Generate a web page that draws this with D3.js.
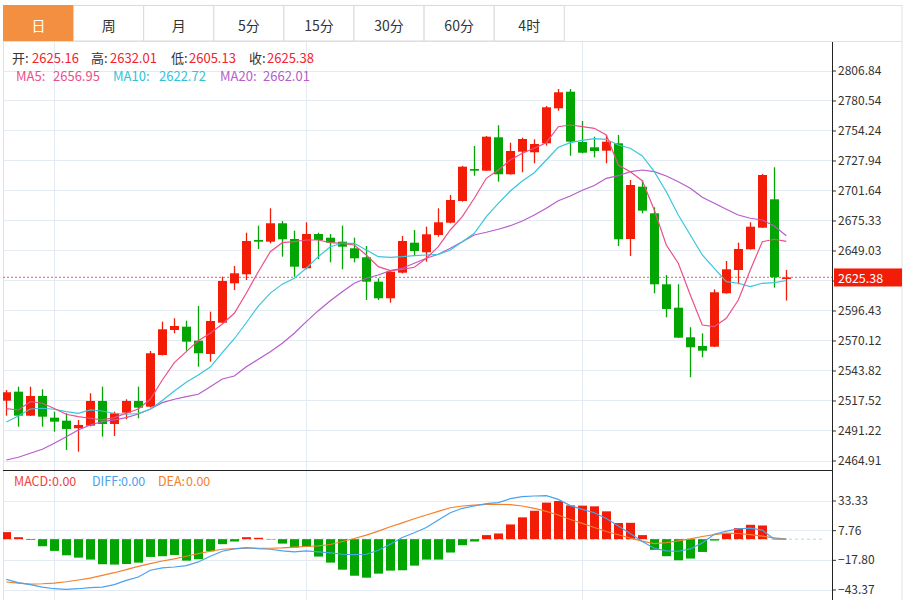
<!DOCTYPE html>
<html>
<head>
<meta charset="utf-8">
<script src="https://cdn.jsdelivr.net/npm/d3@7"></script>
<style>
  body { margin: 0; background: #fff; }
  svg text { font-family: "Noto Sans CJK SC", "Noto Sans", sans-serif; }
</style>
</head>
<body>
<svg id="svg1" width="909" height="600"></svg>
<script>
var tabs = ["日", "周", "月", "5分", "15分", "30分", "60分", "4时"];

var opens  = [2517.37,2525.25,2504.21,2521.49,2502.46,2499.83,2493.17,2495.45,2517.10,2496.94,2506.84,2517.10,2512.10,2557.43,2579.34,2582.24,2569.96,2558.31,2585.75,2620.29,2628.18,2658.25,2656.75,2672.89,2659.12,2633.44,2663.51,2660.26,2656.75,2650.97,2643.08,2621.69,2607.14,2629.58,2655.88,2647.46,2662.63,2673.41,2692.43,2720.49,2719.00,2748.28,2715.85,2735.66,2735.13,2743.02,2773.70,2788.26,2744.16,2739.51,2736.53,2743.02,2659.12,2704.97,2681.65,2619.41,2598.89,2572.95,2565.32,2564.70,2611.52,2631.94,2650.09,2669.03,2693.93,2625.16];
var highs  = [2526.74,2529.64,2529.64,2527.36,2507.72,2506.31,2500.44,2523.85,2529.64,2507.72,2518.59,2529.64,2560.93,2586.62,2589.60,2587.50,2600.38,2595.39,2626.07,2635.45,2664.65,2670.78,2686.04,2674.90,2666.40,2673.77,2664.65,2663.51,2670.78,2660.26,2652.99,2624.67,2631.33,2661.75,2667.01,2669.91,2686.04,2697.70,2723.12,2740.66,2749.42,2758.80,2743.55,2747.93,2746.53,2775.72,2790.62,2790.62,2762.57,2748.80,2750.30,2750.30,2710.85,2710.85,2686.91,2627.56,2619.41,2581.71,2576.45,2615.03,2639.83,2655.88,2673.77,2716.11,2721.98,2632.01];
var lows   = [2504.21,2494.58,2503.95,2494.58,2490.19,2474.15,2472.66,2494.90,2485.81,2486.42,2501.06,2501.94,2511.40,2557.00,2576.45,2561.20,2547.17,2551.56,2585.50,2614.41,2623.18,2650.36,2655.35,2643.61,2626.07,2632.56,2641.59,2638.69,2632.56,2638.69,2605.65,2605.65,2603.28,2629.00,2644.22,2639.22,2661.14,2672.89,2691.82,2714.61,2718.70,2709.36,2715.60,2717.60,2725.49,2740.92,2771.60,2732.15,2734.26,2730.75,2725.49,2652.99,2644.22,2681.65,2611.52,2590.48,2572.33,2537.87,2555.41,2564.40,2611.20,2619.41,2649.80,2668.90,2616.43,2605.13];
var closes = [2524.73,2504.21,2521.49,2503.33,2498.96,2492.56,2496.07,2517.10,2496.94,2506.31,2517.10,2511.23,2558.92,2579.95,2582.85,2569.09,2558.92,2587.23,2622.30,2629.05,2657.37,2656.75,2672.89,2658.86,2634.84,2663.51,2658.25,2655.88,2652.37,2642.20,2621.69,2607.14,2630.46,2657.37,2648.60,2663.24,2673.77,2693.31,2722.50,2719.00,2748.80,2715.85,2736.27,2746.79,2742.41,2774.58,2787.73,2744.42,2734.78,2736.27,2744.42,2658.86,2706.46,2683.93,2619.41,2597.75,2572.60,2564.18,2561.20,2612.40,2632.56,2650.36,2669.91,2715.23,2625.55,2625.38];

var ma5  = [2510.35,2509.21,2516.49,2515.08,2510.52,2505.44,2503.34,2501.94,2500.45,2502.46,2506.32,2510.09,2518.59,2535.51,2550.68,2560.32,2569.97,2576.45,2584.61,2593.98,2611.52,2630.45,2647.99,2655.88,2656.75,2658.25,2658.25,2655.88,2655.35,2653.86,2645.10,2634.84,2631.33,2632.56,2634.31,2642.20,2652.37,2667.01,2678.67,2694.80,2712.33,2719.61,2728.38,2734.25,2738.64,2743.55,2757.57,2759.06,2757.57,2756.17,2750.30,2724.00,2718.12,2710.23,2684.55,2653.86,2637.82,2610.03,2583.73,2582.24,2589.60,2605.65,2631.94,2656.75,2658.86,2656.95];
var ma10 = [2498.69,2503.95,2510.09,2510.71,2509.82,2507.72,2506.32,2509.21,2508.33,2506.14,2505.44,2506.14,2509.82,2517.51,2525.90,2533.56,2539.84,2546.85,2559.39,2571.66,2585.69,2600.24,2611.64,2619.53,2624.73,2633.44,2643.61,2652.37,2655.35,2655.35,2649.48,2643.61,2643.08,2643.61,2644.48,2645.10,2645.71,2649.48,2656.75,2664.12,2678.67,2690.42,2701.20,2709.97,2717.25,2728.38,2739.51,2743.55,2745.65,2747.05,2746.53,2741.53,2738.64,2731.89,2718.12,2700.59,2680.16,2662.63,2645.10,2633.44,2621.69,2620.29,2617.31,2620.29,2620.82,2622.72];
var ma20 = [2465.38,2467.74,2471.25,2474.75,2480.02,2485.81,2491.68,2496.06,2498.95,2500.45,2502.46,2505.70,2510.09,2515.61,2518.59,2520.87,2522.98,2529.64,2536.39,2539.02,2547.17,2553.66,2560.32,2567.68,2576.45,2586.62,2596.27,2605.03,2612.92,2620.29,2624.67,2627.56,2631.33,2633.44,2637.82,2642.20,2645.71,2650.97,2656.75,2662.63,2665.00,2667.62,2670.78,2674.90,2680.16,2686.04,2692.70,2696.82,2701.82,2706.03,2712.33,2714.61,2718.12,2719.61,2718.12,2714.35,2709.35,2703.57,2695.68,2690.42,2685.16,2680.16,2677.27,2675.78,2670.52,2662.01];

var macd = [6.1,1.7,-0.6,-6.1,-10.1,-13.9,-15.9,-17.6,-21.6,-21.9,-21.4,-20.2,-15.3,-14.7,-13.6,-18.5,-17.3,-10.4,-4.3,-2.0,1.7,1.2,-0.3,-3.8,-7.2,-6.6,-15.0,-20.2,-26.3,-31.5,-33.2,-29.7,-27.1,-26.8,-22.8,-17.6,-17.6,-11.5,-5.2,-2.0,3.5,4.9,12.7,18.8,24.5,31.5,32.9,29.1,28.9,28.3,24.0,13.9,14.1,3.5,-9.2,-14.7,-18.2,-16.7,-11.0,-1.2,5.2,9.5,12.4,11.8,0,0];
var diff = [-34.6,-37.5,-39.2,-41.3,-42.7,-43.3,-42.7,-41.8,-41.3,-39.2,-35.5,-32.6,-26.8,-24.8,-24.0,-22.8,-19.6,-14.7,-10.4,-8.4,-7.2,-8.1,-8.7,-10.1,-11.0,-10.1,-11.0,-11.8,-13.0,-13.3,-13.0,-9.5,-4.3,1.4,5.5,10.1,16.5,22.8,26.6,28.6,30.6,31.5,34.9,36.7,37.2,37.5,34.3,28.9,25.7,22.8,17.9,11.3,4.9,-2.0,-7.8,-10.1,-10.4,-8.4,-3.2,4.3,6.9,8.9,9.5,7.8,0,0];
var dea  = [-36.9,-37.8,-38.7,-38.4,-37.8,-36.7,-35.2,-33.5,-31.2,-28.9,-26.3,-23.4,-21.1,-18.8,-17.0,-14.7,-12.4,-10.4,-8.7,-8.1,-7.8,-7.8,-7.8,-7.5,-6.9,-6.3,-5.8,-4.6,-2.0,0.6,3.5,6.9,10.7,14.1,17.6,20.8,24.0,27.1,28.6,29.4,30.0,30.0,29.7,28.6,26.6,24.0,20.8,17.0,13.6,10.1,6.6,3.8,0.9,-1.7,-3.8,-2.9,-1.4,0.3,2.3,4.0,5.2,4.9,4.0,2.6,1.2,0];

var priceTicks = [2806.84,2780.54,2754.24,2727.94,2701.64,2675.33,2649.03,2622.73,2596.43,2570.12,2543.82,2517.52,2491.22,2464.91];
var macdTicks = [33.33,7.76,-17.80,-43.37];
var monthStarts = [4, 25, 48];
var lastPrice = 2625.38;

var upColor = "#f31c06";
var downColor = "#03a503";
var gridColor = "#e4eaf1";

var svg = d3.select("#svg1");

var plotLeft = 3, plotRight = 832, frameRight = 902;

var scaleX = d3.scaleLinear().domain([0, 65]).range([6.3, 786.3]);
var scaleY = d3.scaleLinear().domain([2464.91, 2806.84]).range([460.5, 70.5]);
var scaleM = d3.scaleLinear().domain([-43.37, 33.33]).range([589.5, 500.5]);

// outer frame
svg.append("rect")
    .attr("x", 3.5).attr("y", 5.5)
    .attr("width", frameRight - 3.5).attr("height", 600)
    .attr("fill", "none").attr("stroke", "#dde1e6");

// tabs
var tabW = 70.1;
var tab = svg.selectAll(".tab")
    .data(tabs)
    .enter()
    .append("g")
      .attr("class", "tab")
      .attr("transform", function(d, i) { return "translate(" + (3.5 + i * tabW) + ",5.5)"; });

tab.append("rect")
    .attr("width", tabW).attr("height", 35.5)
    .attr("fill", function(d, i) { return i == 0 ? "#f38f41" : "#fff"; })
    .attr("stroke", function(d, i) { return i == 0 ? "#f38f41" : "#d9d9d9"; });

tab.append("text")
    .attr("x", tabW / 2).attr("y", 19)
    .attr("text-anchor", "middle")
    .attr("dominant-baseline", "central")
    .attr("font-size", 14)
    .attr("fill", function(d, i) { return i == 0 ? "#fff" : "#333"; })
    .text(function(d) { return d; });

svg.append("line")
    .attr("x1", 3).attr("x2", frameRight)
    .attr("y1", 41.5).attr("y2", 41.5)
    .attr("stroke", "#dde1e6");

// grid
svg.selectAll(".hgrid")
    .data(priceTicks)
    .enter()
    .append("line")
      .attr("class", "hgrid")
      .attr("x1", plotLeft).attr("x2", plotRight)
      .attr("y1", function(d) { return Math.round(scaleY(d)) + 0.5; })
      .attr("y2", function(d) { return Math.round(scaleY(d)) + 0.5; })
      .attr("stroke", gridColor);

svg.selectAll(".mgrid")
    .data(macdTicks)
    .enter()
    .append("line")
      .attr("class", "mgrid")
      .attr("x1", plotLeft).attr("x2", plotRight)
      .attr("y1", function(d) { return Math.round(scaleM(d)) + 0.5; })
      .attr("y2", function(d) { return Math.round(scaleM(d)) + 0.5; })
      .attr("stroke", gridColor);

svg.selectAll(".vgrid")
    .data(monthStarts)
    .enter()
    .append("line")
      .attr("class", "vgrid")
      .attr("x1", function(d) { return Math.round(scaleX(d)) + 0.5; })
      .attr("x2", function(d) { return Math.round(scaleX(d)) + 0.5; })
      .attr("y1", 42).attr("y2", 600)
      .attr("stroke", gridColor);

// clip for main chart
svg.append("clipPath").attr("id", "clipMain")
    .append("rect").attr("x", plotLeft).attr("y", 42).attr("width", plotRight - plotLeft).attr("height", 428);
svg.append("clipPath").attr("id", "clipMacd")
    .append("rect").attr("x", plotLeft).attr("y", 472).attr("width", plotRight - plotLeft).attr("height", 128);

var main = svg.append("g").attr("clip-path", "url(#clipMain)");

// last price dotted line
main.append("line")
    .attr("x1", plotLeft).attr("x2", plotRight)
    .attr("y1", scaleY(lastPrice)).attr("y2", scaleY(lastPrice))
    .attr("stroke", "#f77a7a").attr("stroke-width", 1.2)
    .attr("stroke-dasharray", "2,2");

// candles
var idx = d3.range(closes.length);
var candle = main.selectAll(".candle")
    .data(idx)
    .enter()
    .append("g")
      .attr("class", "candle")
      .attr("fill", function(i) { return closes[i] >= opens[i] ? upColor : downColor; })
      .attr("stroke", function(i) { return closes[i] >= opens[i] ? upColor : downColor; });

candle.append("line")
    .attr("x1", function(i) { return Math.round(scaleX(i)) + 0.5; })
    .attr("x2", function(i) { return Math.round(scaleX(i)) + 0.5; })
    .attr("y1", function(i) { return scaleY(highs[i]); })
    .attr("y2", function(i) { return scaleY(lows[i]); })
    .attr("stroke-width", 1.3);

candle.append("rect")
    .attr("x", function(i) { return Math.round(scaleX(i)) - 4; })
    .attr("width", 9)
    .attr("y", function(i) { return scaleY(Math.max(opens[i], closes[i])); })
    .attr("height", function(i) { return Math.max(1.5, Math.abs(scaleY(opens[i]) - scaleY(closes[i]))); })
    .attr("stroke", "none");

// moving averages
var maLine = d3.line()
    .x(function(d, i) { return scaleX(i); })
    .y(function(d) { return scaleY(d); });

var maSeries = [
  { values: ma20, color: "#b65ccb" },
  { values: ma10, color: "#37c6dc" },
  { values: ma5,  color: "#ec4f88" }
];

main.selectAll(".ma")
    .data(maSeries)
    .enter()
    .append("path")
      .attr("class", "ma")
      .attr("d", function(d) { return maLine(d.values); })
      .attr("fill", "none")
      .attr("stroke", function(d) { return d.color; })
      .attr("stroke-width", 1.2);

// legends: label and value are placed separately
function legend(yPos, size, items) {
  var g = svg.append("g").attr("font-size", size);
  items.forEach(function(it) {
    g.append("text").attr("x", it.x).attr("y", yPos).attr("fill", it.labelColor).text(it.label);
    g.append("text").attr("x", it.vx).attr("y", yPos).attr("fill", it.valueColor).text(it.value);
  });
}

legend(62.5, 13, [
  { x: 12,  vx: 32,  label: "开:", value: d3.format(".2f")(opens[65]),  labelColor: "#333", valueColor: "#f5222d" },
  { x: 91,  vx: 110, label: "高:", value: d3.format(".2f")(highs[65]),  labelColor: "#333", valueColor: "#f5222d" },
  { x: 171, vx: 189, label: "低:", value: d3.format(".2f")(lows[65]),   labelColor: "#333", valueColor: "#f5222d" },
  { x: 249, vx: 267, label: "收:", value: d3.format(".2f")(closes[65]), labelColor: "#333", valueColor: "#f5222d" }
]);

legend(80.5, 13, [
  { x: 16,  vx: 53,  label: "MA5:",  value: d3.format(".2f")(ma5[65]),  labelColor: "#ec4f88", valueColor: "#ec4f88" },
  { x: 113, vx: 159, label: "MA10:", value: d3.format(".2f")(ma10[65]), labelColor: "#2ec3da", valueColor: "#2ec3da" },
  { x: 220, vx: 263, label: "MA20:", value: d3.format(".2f")(ma20[65]), labelColor: "#b65ccb", valueColor: "#b65ccb" }
]);

// MACD pane
var sub = svg.append("g").attr("clip-path", "url(#clipMacd)");

sub.append("line")
    .attr("x1", plotLeft).attr("x2", 822)
    .attr("y1", scaleM(0)).attr("y2", scaleM(0))
    .attr("stroke", "#a9d9f0")
    .attr("stroke-dasharray", "3,3");

sub.selectAll(".bar")
    .data(idx)
    .enter()
    .append("rect")
      .attr("class", "bar")
      .attr("x", function(i) { return Math.round(scaleX(i)) - 4; })
      .attr("width", 9)
      .attr("y", function(i) { return scaleM(Math.max(0, macd[i])); })
      .attr("height", function(i) { return Math.abs(scaleM(macd[i]) - scaleM(0)); })
      .attr("fill", function(i) { return macd[i] >= 0 ? upColor : downColor; });

var macdLine = d3.line()
    .x(function(d, i) { return scaleX(i); })
    .y(function(d) { return scaleM(d); });

sub.append("path")
    .attr("d", macdLine(dea))
    .attr("fill", "none").attr("stroke", "#f57f2a").attr("stroke-width", 1.2);

sub.append("path")
    .attr("d", macdLine(diff))
    .attr("fill", "none").attr("stroke", "#4aa2ee").attr("stroke-width", 1.2);

legend(485.5, 12.5, [
  { x: 14,  vx: 52,  label: "MACD:", value: "0.00", labelColor: "#f0423c", valueColor: "#f0423c" },
  { x: 92,  vx: 121, label: "DIFF:", value: "0.00", labelColor: "#4aa2ee", valueColor: "#4aa2ee" },
  { x: 158, vx: 186, label: "DEA:",  value: "0.00", labelColor: "#f57f2a", valueColor: "#f57f2a" }
]);

// separator between panes
svg.append("line")
    .attr("x1", plotLeft).attr("x2", plotRight)
    .attr("y1", 470.5).attr("y2", 470.5)
    .attr("stroke", "#222");

// axes
svg.append("g")
    .attr("class", "axis")
    .attr("transform", "translate(" + plotRight + ",0)")
    .call(d3.axisRight(scaleY).tickValues(priceTicks).tickSize(4).tickPadding(2).tickFormat(d3.format(".2f")));

svg.append("g")
    .attr("class", "axis")
    .attr("transform", "translate(" + plotRight + ",0)")
    .call(d3.axisRight(scaleM).tickValues(macdTicks).tickSize(4).tickPadding(2).tickFormat(d3.format(".2f")));

svg.selectAll(".axis .domain").remove();
svg.selectAll(".axis text").attr("font-size", 12).attr("fill", "#333")
    .style("font-family", "'Noto Sans CJK SC', 'Noto Sans', sans-serif");
svg.selectAll(".axis line").attr("stroke", "#333");

// the tick under the last-price label is covered by it
svg.selectAll(".axis .tick")
    .filter(function(d) { return Math.abs(scaleY(d) - scaleY(lastPrice)) < 12 && d > 1000; })
    .select("text").remove();

svg.append("line")
    .attr("x1", plotRight + 0.5).attr("x2", plotRight + 0.5)
    .attr("y1", 42).attr("y2", 600)
    .attr("stroke", "#222");

// last price label
svg.append("rect")
    .attr("x", plotRight + 2).attr("y", scaleY(lastPrice) - 9)
    .attr("width", frameRight - plotRight - 2).attr("height", 18)
    .attr("fill", upColor);

svg.append("text")
    .attr("x", plotRight + 6).attr("y", scaleY(lastPrice))
    .attr("dominant-baseline", "central")
    .attr("font-size", 12.5)
    .attr("fill", "#fff")
    .text(d3.format(".2f")(lastPrice));
</script>
</body>
</html>
